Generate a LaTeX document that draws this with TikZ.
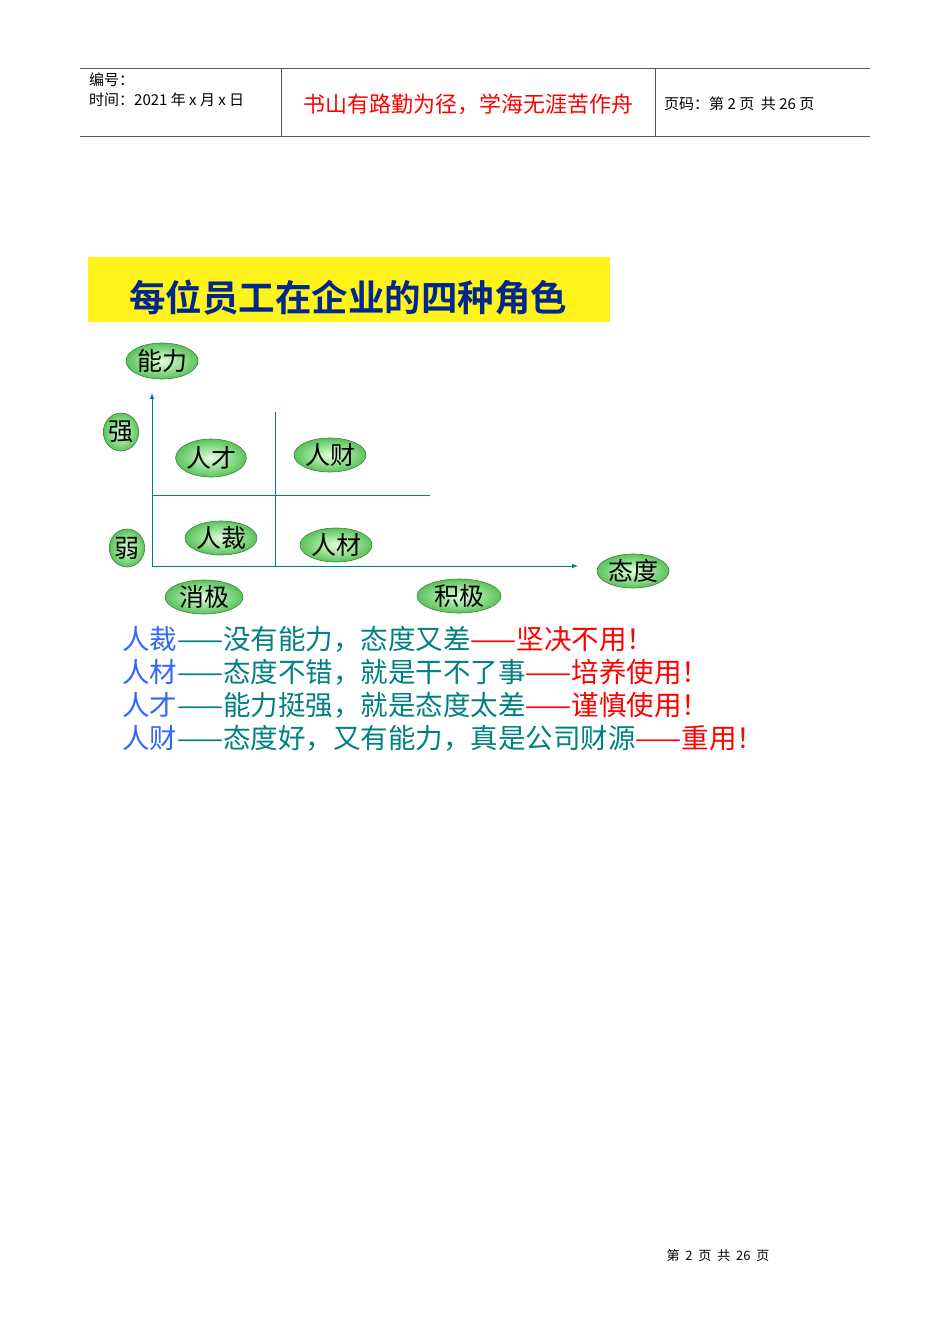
\documentclass[tikz,border=0pt]{standalone}
\usepackage{fontspec}
\setmainfont{Noto Sans CJK SC}
\newfontfamily\cjkb{Noto Sans CJK SC Bold}
\usetikzlibrary{shapes.geometric}
\definecolor{ax}{RGB}{0,128,128}
\definecolor{tb}{RGB}{0,40,140}
\definecolor{lb}{RGB}{51,102,255}
\definecolor{rd}{RGB}{255,0,0}
\definecolor{gin}{RGB}{225,255,220}
\definecolor{gout}{RGB}{90,195,90}
\tikzset{
 bub/.style={ellipse,inner sep=0pt,draw={rgb,255:red,60;green,130;blue,60},line width=0.6pt,inner color=gin,outer color=gout,font=\fontsize{25}{25}\selectfont},
 axl/.style={draw=ax,line width=1pt},
 ln/.style={anchor=west,inner sep=0pt,font=\fontsize{27.5}{27.5}\selectfont},
 hd/.style={anchor=west,inner sep=0pt,font=\fontsize{15}{15}\selectfont}
}
\begin{document}
\begin{tikzpicture}[x=1pt,y=-1pt]
\useasboundingbox[fill=white] (0,0) rectangle (950,1344);
% header
\draw[line width=1pt,gray!70!black] (80,68) -- (870,68) (80,136) -- (870,136) (281,68) -- (281,136) (655,68) -- (655,136);
\node[hd] (h1) at (89,80) {编号：};
\node[hd] (h2) at (89,100) {时间：2021 年 x 月 x 日};
\node[hd,anchor=center,text=rd,font=\fontsize{22}{22}\selectfont] (h3) at (468,104) {书山有路勤为径，学海无涯苦作舟};
\node[hd] (h4) at (664,104) {页码：第 2 页\ \ 共 26 页};
% title
\fill[yellow!90!white] (88,257) rectangle (610,322);
\node[text=tb,font=\cjkb\fontsize{36.5}{36.5}\selectfont] (title) at (348,298) {每位员工在企业的四种角色};
% axes
\coordinate (o) at (152,566);
\coordinate (yt) at (152,393);
\coordinate (xt) at (578,566);
\draw[axl,-latex] (o) -- (yt);
\draw[axl,-latex] (o) -- (xt);
\coordinate (v1) at (275,412); \coordinate (v2) at (275,566);
\coordinate (h1a) at (152,495); \coordinate (h1b) at (430,495);
\draw[axl,line width=0.8pt] (v1) -- (v2);
\draw[axl,line width=0.8pt] (h1a) -- (h1b);
% bubbles
\node[bub,minimum width=72,minimum height=36] (nl) at (162,361) {能力};
\node[bub,minimum width=34,minimum height=38] (q) at (121,432) {强};
\node[bub,minimum width=34,minimum height=38] (r) at (127,548) {弱};
\node[bub,minimum width=64,minimum height=38] (rc) at (211,458) {人才};
\node[bub,minimum width=72,minimum height=34] (rcai) at (330,455) {人财};
\node[bub,minimum width=72,minimum height=34] (rz) at (221,538) {人裁};
\node[bub,minimum width=72,minimum height=34] (rm) at (336,545) {人材};
\node[bub,minimum width=72,minimum height=34] (td) at (633,571) {态度};
\node[bub,minimum width=78,minimum height=34] (xj) at (204,597) {消极};
\node[bub,minimum width=84,minimum height=34] (jj) at (459,596) {积极};
% lines
\node[ln] (l1) at (122,639) {\textcolor{lb}{人裁}\textcolor{ax}{——没有能力，态度又差}\textcolor{rd}{——坚决不用！}};
\node[ln] (l2) at (122,672) {\textcolor{lb}{人材}\textcolor{ax}{——态度不错，就是干不了事}\textcolor{rd}{——培养使用！}};
\node[ln] (l3) at (122,705) {\textcolor{lb}{人才}\textcolor{ax}{——能力挺强，就是态度太差}\textcolor{rd}{——谨慎使用！}};
\node[ln] (l4) at (122,738) {\textcolor{lb}{人财}\textcolor{ax}{——态度好，又有能力，真是公司财源}\textcolor{rd}{——重用！}};
% footer
\node[font=\fontsize{13}{13}\selectfont] (ft) at (718,1256) {第\ \ 2\ \ 页\ \ 共\ \ 26\ \ 页};
\end{tikzpicture}
\end{document}
